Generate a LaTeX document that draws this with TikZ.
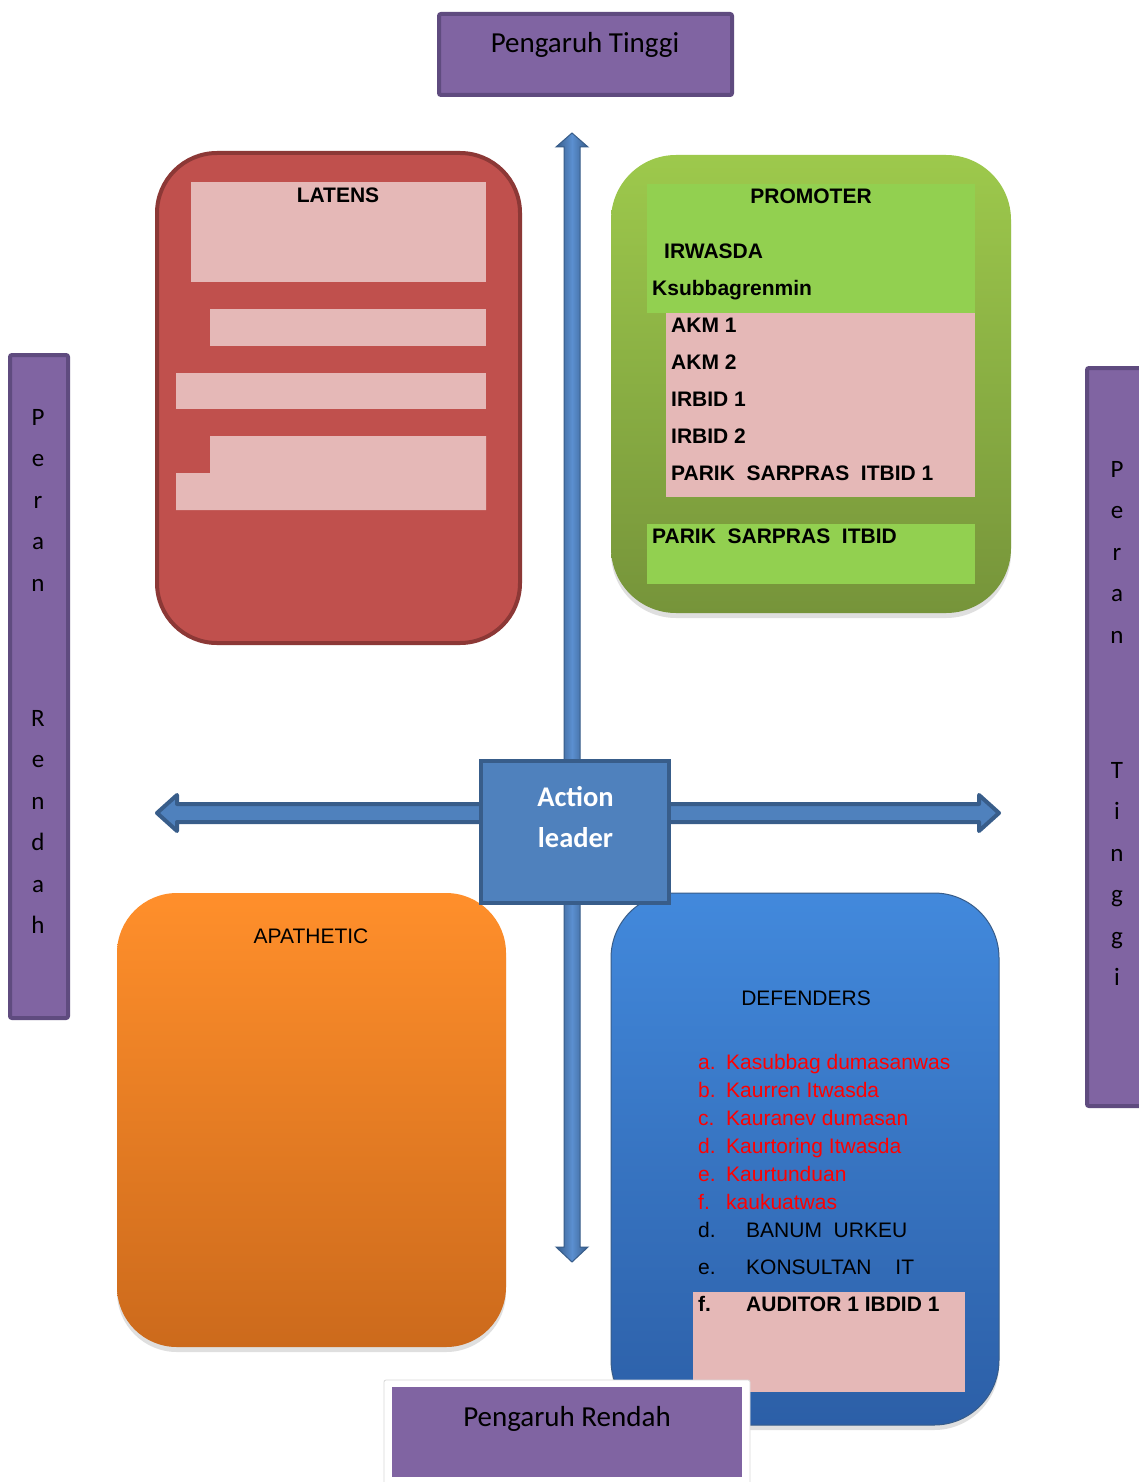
\documentclass[tikz,border=0pt]{standalone}
\usepackage{fontspec}
\setmainfont{Liberation Sans}
\newfontfamily\calib{Carlito}
\usetikzlibrary{shadows}
\definecolor{purp}{HTML}{8064A2}
\definecolor{purpd}{HTML}{5F4B7F}
\definecolor{latred}{HTML}{C0504D}
\definecolor{latredd}{HTML}{8C3836}
\definecolor{pinkf}{HTML}{E5B8B7}
\definecolor{greenf}{HTML}{92D050}
\definecolor{gtop}{HTML}{9DC94C}
\definecolor{gbot}{HTML}{76943A}
\definecolor{otop}{HTML}{FF8F2B}
\definecolor{obot}{HTML}{CC6A1C}
\definecolor{btop}{HTML}{4289DC}
\definecolor{bbot}{HTML}{2C5FA7}
\definecolor{abl}{HTML}{4F81BD}
\definecolor{abld}{HTML}{385D8A}
\definecolor{ablm}{HTML}{5B8FD0}
\definecolor{redt}{HTML}{FF0000}
\begin{document}
\begin{tikzpicture}[x=1pt,y=-1pt,
  txt/.style={inner sep=0pt, anchor=base west, font=\fontsize{21}{25}\selectfont},
  btxt/.style={inner sep=0pt, anchor=base west, font=\fontsize{21}{25}\selectfont\bfseries},
  ctxt/.style={inner sep=0pt, anchor=base, font=\fontsize{21}{25}\selectfont},
  cbtxt/.style={inner sep=0pt, anchor=base, font=\fontsize{21}{25}\selectfont\bfseries},
  bigcal/.style={inner sep=0pt, anchor=base, font=\calib\fontsize{29}{34}\selectfont},
  sidechar/.style={inner sep=0pt, anchor=base, font=\calib\fontsize{25}{30}\selectfont},
  purpbox/.style={rectangle, draw=purpd, fill=purp, line width=4pt, rounded corners=2pt, inner sep=0pt},
  softshadow/.style={drop shadow={opacity=0.25, shadow xshift=0pt, shadow yshift=-5pt}},
  quad/.style={rectangle, inner sep=0pt}
]
\useasboundingbox (0,0) rectangle (1139,1482);
\fill[white] (0,0) rectangle (1139,1482);
\clip (0,0) rectangle (1139,1482);

% ---- arrows ----
\path[draw=abld, line width=1pt, left color=abld, right color=abld, middle color=ablm]
  (572,133) -- (588,147) -- (580,147) -- (580,1247) -- (588,1247) -- (572,1262)
  -- (556,1247) -- (564,1247) -- (564,147) -- (556,147) -- cycle;
\path[fill=abl, draw=abld, line width=4pt, line join=round]
  (157,813) -- (177,795) -- (177,804) -- (979,804) -- (979,795) -- (999,813)
  -- (979,831) -- (979,822) -- (177,822) -- (177,831) -- cycle;

% ---- Pengaruh Tinggi ----
\node[purpbox, minimum width=293pt, minimum height=81pt] (ptbox) at (585.5,54.5) {};
\node[bigcal] (pttext) at (585,53) {Pengaruh Tinggi};

% ---- side bars ----
\node[purpbox, minimum width=58pt, minimum height=663pt] (leftbar) at (39,686.5) {};
\node[purpbox, minimum width=70pt, minimum height=738pt] (rightbar) at (1122,737) {};
\foreach \ch/\yy [count=\k] in {P/425, e/466.5, r/508, a/549.5, n/591, R/726, e/767.5, n/809, d/850.5, a/892, h/933.5}
  \node[sidechar] (L\k) at (38,\yy) {\ch};
\foreach \ch/\yy [count=\k] in {P/477, e/518.5, r/560, a/601.5, n/643, T/778, i/819.5, n/861, g/902.5, g/944, i/985.5}
  \node[sidechar] (R\k) at (1117,\yy) {\ch};

% ---- LATENS ----
\node[quad, draw=latredd, fill=latred, line width=4pt, rounded corners=60pt,
      minimum width=363pt, minimum height=490pt] (latens) at (338.5,398) {};
\fill[pinkf] (191,182) rectangle (486,282);
\fill[pinkf] (210,309) rectangle (486,346);
\fill[pinkf] (176,373) rectangle (486,409);
\fill[pinkf] (210,436) -- (486,436) -- (486,510) -- (176,510) -- (176,473) -- (210,473) -- cycle;
\node[cbtxt] (latt) at (338,202) {LATENS};

% ---- PROMOTER ----
\node[quad, softshadow, top color=gtop, bottom color=gbot, rounded corners=65pt,
      minimum width=400pt, minimum height=458pt] (promoter) at (811,384) {};
\fill[greenf] (647,184) rectangle (975,313);
\fill[pinkf] (666,313) rectangle (975,497);
\fill[greenf] (647,524) rectangle (975,584);
\node[cbtxt] (pr0) at (811,204) {PROMOTER};
\node[btxt] (pr1) at (664,258.5) {IRWASDA};
\node[btxt] (pr2) at (652,295.5) {Ksubbagrenmin};
\node[btxt] (pr3) at (671,332) {AKM 1};
\node[btxt] (pr4) at (671,369) {AKM 2};
\node[btxt] (pr5) at (671,406) {IRBID 1};
\node[btxt] (pr6) at (671,443) {IRBID 2};
\node[btxt] (pr7) at (671,480) {PARIK~~SARPRAS~~ITBID 1};
\node[btxt] (pr8) at (652,543) {PARIK~~SARPRAS~~ITBID};

% ---- APATHETIC ----
\node[quad, softshadow, top color=otop, bottom color=obot, rounded corners=60pt,
      minimum width=389pt, minimum height=454pt] (apathetic) at (311.5,1120) {};
\node[ctxt] (apt) at (311,943.5) {APATHETIC};

% ---- DEFENDERS ----
\node[quad, softshadow, top color=btop, bottom color=bbot, draw=abld, line width=1pt, rounded corners=65pt,
      minimum width=388pt, minimum height=532pt] (defenders) at (805,1159) {};
\fill[pinkf] (693,1292) rectangle (965,1392);
\node[ctxt] (dft) at (806,1005) {DEFENDERS};
\node[txt, text=redt] (d1) at (698,1069.5) {\makebox[28pt][l]{a.}Kasubbag dumasanwas};
\node[txt, text=redt] (d2) at (698,1097.5) {\makebox[28pt][l]{b.}Kaurren Itwasda};
\node[txt, text=redt] (d3) at (698,1125.5) {\makebox[28pt][l]{c.}Kauranev dumasan};
\node[txt, text=redt] (d4) at (698,1153.5) {\makebox[28pt][l]{d.}Kaurtoring Itwasda};
\node[txt, text=redt] (d5) at (698,1181.5) {\makebox[28pt][l]{e.}Kaurtunduan};
\node[txt, text=redt] (d6) at (698,1209.5) {\makebox[28pt][l]{f.}kaukuatwas};
\node[txt] (d7) at (698,1237.5) {\makebox[48pt][l]{d.}BANUM~~URKEU};
\node[txt] (d8) at (698,1274.5) {\makebox[48pt][l]{e.}KONSULTAN\hspace{24pt}IT};
\node[btxt] (d9) at (698,1311.5) {\makebox[48pt][l]{f.}AUDITOR 1 IBDID 1};

% ---- Action leader ----
\node[quad, draw=abld, fill=abl, line width=4pt, minimum width=188pt, minimum height=142pt] (action) at (575,832) {};
\node[inner sep=0pt, anchor=base, text=white, font=\calib\bfseries\fontsize{28.5}{34}\selectfont] (act1) at (575.5,806) {Action};
\node[inner sep=0pt, anchor=base, text=white, font=\calib\bfseries\fontsize{28.5}{34}\selectfont] (act2) at (575.5,847) {leader};

% ---- Pengaruh Rendah ----
\node[quad, fill=white, draw=black!15, line width=0.8pt, rounded corners=2pt, minimum width=366pt, minimum height=106pt] (prframe) at (567,1433) {};
\node[quad, fill=purp, minimum width=350pt, minimum height=90pt] (prbox) at (567,1432) {};
\node[bigcal] (prtext) at (567,1426) {Pengaruh Rendah};
\end{tikzpicture}
\end{document}
